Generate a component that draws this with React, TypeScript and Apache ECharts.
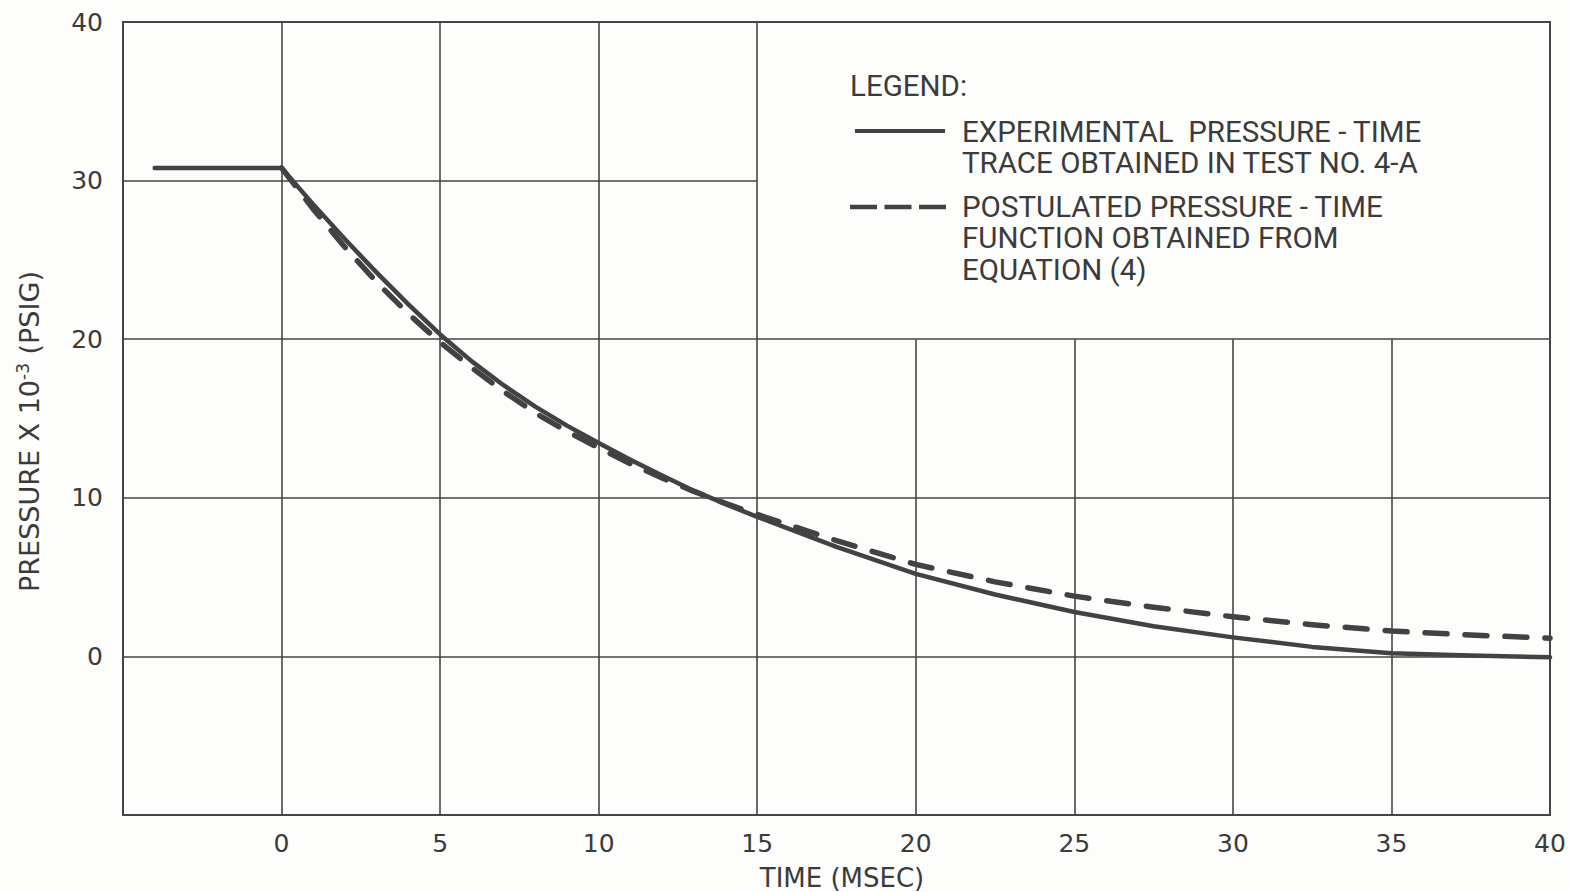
import React, { useEffect, useRef } from "react";
import * as echarts from "echarts";

// Axis ranges
const xRange = [-5, 40];
const yRange = [-10, 40];
const xStep = 5;
const yStep = 10;

// Grid lines (the legend box blanks out the upper-right region)
const vGridFull = [0, 5, 10, 15];
const vGridShort = [20, 25, 30, 35];
const hGridFull = [0, 10, 20];
const hGridShort = [30];
const legendBoxCorner = [15, 20];

// Experimental pressure-time trace (test no. 4-A)
const timeExp = [-4, 0, 1, 2, 3, 4, 5, 6, 7, 8, 9, 10, 11, 12, 13, 14, 15, 17.5, 20, 22.5, 25, 27.5, 30, 32.5, 35, 37.5, 40];
const pressureExp = [30.8, 30.8, 28.5, 26.3, 24.2, 22.2, 20.3, 18.6, 17.1, 15.75, 14.55, 13.45, 12.4, 11.4, 10.45, 9.6, 8.8, 6.9, 5.2, 3.9, 2.8, 1.9, 1.2, 0.6, 0.2, 0.05, -0.05];

// Postulated pressure-time function, equation (4)
const timePost = [0, 1, 2, 3, 4, 5, 6, 7, 8, 9, 10, 11, 12, 13, 14, 15, 17.5, 20, 22.5, 25, 27.5, 30, 32.5, 35, 37.5, 40];
const pressurePost = [30.8, 28.2, 25.8, 23.6, 21.6, 19.8, 18.2, 16.7, 15.35, 14.2, 13.15, 12.15, 11.25, 10.4, 9.65, 8.95, 7.3, 5.8, 4.7, 3.8, 3.1, 2.5, 2.0, 1.6, 1.35, 1.15];

const legendTitle = "LEGEND:";
const legendExp = ["EXPERIMENTAL  PRESSURE - TIME", "TRACE OBTAINED IN TEST NO. 4-A"];
const legendPost = ["POSTULATED PRESSURE - TIME", "FUNCTION OBTAINED FROM", "EQUATION (4)"];

const INK = "#3b3b3b";
const LINE = "#454545";
const TICK_FONT = "DejaVu Sans";
const LEGEND_FONT = "Roboto";

export default function App() {
  const ref = useRef<HTMLDivElement>(null);

  useEffect(() => {
    if (!ref.current) return;
    const chart = echarts.init(ref.current, undefined, { renderer: "svg" });

    const gridSegments: any[] = [];
    vGridFull.forEach((x) => gridSegments.push([{ coord: [x, yRange[0]] }, { coord: [x, yRange[1]] }]));
    vGridShort.forEach((x) => gridSegments.push([{ coord: [x, yRange[0]] }, { coord: [x, legendBoxCorner[1]] }]));
    hGridFull.forEach((y) => gridSegments.push([{ coord: [xRange[0], y] }, { coord: [xRange[1], y] }]));
    hGridShort.forEach((y) => gridSegments.push([{ coord: [xRange[0], y] }, { coord: [legendBoxCorner[0], y] }]));

    const legendText = (text: string, x: number, y: number) => ({
      type: "text",
      x,
      y,
      style: {
        text,
        fill: INK,
        font: `29.5px ${LEGEND_FONT}`,
        textAlign: "left",
        textVerticalAlign: "middle",
      },
    });

    const option: any = {
      animation: false,
      backgroundColor: "#fdfdfb",
      grid: {
        left: 123,
        right: 20,
        top: 22,
        bottom: 77,
        containLabel: false,
        outerBoundsMode: "none",
        show: true,
        borderColor: LINE,
        borderWidth: 2,
        backgroundColor: "transparent",
      },
      xAxis: {
        type: "value",
        min: xRange[0],
        max: xRange[1],
        interval: xStep,
        axisLine: { show: false },
        axisTick: { show: false },
        splitLine: { show: false },
        axisLabel: {
          margin: 16,
          color: INK,
          fontFamily: TICK_FONT,
          fontSize: 25,
          formatter: (v: number) => (v === xRange[0] ? "" : String(v)),
        },
        name: "TIME (MSEC)",
        nameLocation: "middle",
        nameGap: 50,
        nameTextStyle: {
          color: INK,
          fontFamily: TICK_FONT,
          fontSize: 26,
          padding: [0, 0, 0, 11],
        },
      },
      yAxis: {
        type: "value",
        min: yRange[0],
        max: yRange[1],
        interval: yStep,
        axisLine: { show: false },
        axisTick: { show: false },
        splitLine: { show: false },
        axisLabel: {
          margin: 20,
          color: INK,
          fontFamily: TICK_FONT,
          fontSize: 25,
          formatter: (v: number) => (v === yRange[0] ? "" : String(v)),
        },
        name: "{a|PRESSURE X 10}{s|-3}{a| (PSIG)}",
        nameLocation: "middle",
        nameRotate: 90,
        nameGap: 78,
        nameTextStyle: {
          padding: [0, 26, 0, 0],
          rich: {
            a: { color: INK, fontFamily: TICK_FONT, fontSize: 27 },
            s: { color: INK, fontFamily: TICK_FONT, fontSize: 17, padding: [0, 0, 14, 0] },
          },
        },
      },
      series: [
        {
          name: "grid",
          type: "line",
          data: [],
          z: 1,
          silent: true,
          markLine: {
            silent: true,
            symbol: ["none", "none"],
            label: { show: false },
            lineStyle: { color: LINE, width: 1.6, type: "solid" },
            emphasis: { disabled: true },
            data: gridSegments,
          },
        },
        {
          name: legendExp.join(" "),
          type: "line",
          z: 4,
          data: timeExp.map((t, i) => [t, pressureExp[i]]),
          showSymbol: false,
          smooth: false,
          lineStyle: { color: "#424242", width: 4.5, type: "solid", cap: "round", join: "round" },
        },
        {
          name: legendPost.join(" "),
          type: "line",
          z: 3,
          data: timePost.map((t, i) => [t, pressurePost[i]]),
          showSymbol: false,
          smooth: false,
          lineStyle: { color: "#424242", width: 5.5, type: [22, 18], cap: "round", join: "round" },
        },
      ],
      graphic: [
        {
          type: "text",
          x: 850,
          y: 86,
          style: { text: legendTitle, fill: INK, font: `29.5px ${LEGEND_FONT}`, textAlign: "left", textVerticalAlign: "middle" },
        },
        {
          type: "line",
          shape: { x1: 855, y1: 131, x2: 945, y2: 131 },
          style: { stroke: "#424242", lineWidth: 4 },
        },
        legendText(legendExp[0], 962, 132),
        legendText(legendExp[1], 962, 163),
        {
          type: "line",
          shape: { x1: 850, y1: 207, x2: 946, y2: 207 },
          style: { stroke: "#424242", lineWidth: 4.5, lineDash: [27, 7.5] },
        },
        legendText(legendPost[0], 962, 207),
        legendText(legendPost[1], 962, 238),
        legendText(legendPost[2], 962, 270),
      ],
    };

    chart.setOption(option);
    return () => chart.dispose();
  }, []);

  return (
    <div
      ref={ref}
      style={{ position: "fixed", left: 0, top: 0, width: 1570, height: 892 }}
    />
  );
}
